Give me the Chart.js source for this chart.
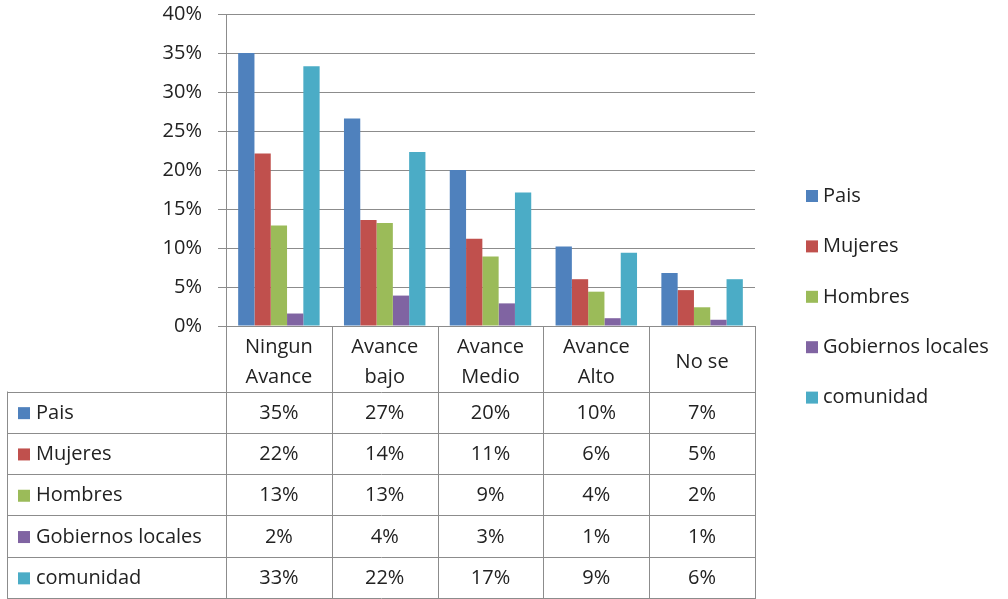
<!DOCTYPE html>
<html>
<head>
<meta charset="utf-8">
<script src="https://cdn.jsdelivr.net/npm/chart.js@4/dist/chart.umd.min.js"></script>
<style>
  html, body { margin: 0; padding: 0; background: #fff; }
  #avanceChart { display: block; }
</style>
</head>
<body>
<canvas id="avanceChart" width="1008" height="599"></canvas>
<script>
// Categorias (cabecera de la tabla, en dos lineas)
const categorias = [
  ["Ningun", "Avance"],
  ["Avance", "bajo"],
  ["Avance", "Medio"],
  ["Avance", "Alto"],
  ["No se"]
];

const series = ["Pais", "Mujeres", "Hombres", "Gobiernos locales", "comunidad"];

// Porcentajes por serie
const pais = [35.0, 26.6, 20.0, 10.2, 6.8];
const mujeres = [22.1, 13.6, 11.2, 6.0, 4.6];
const hombres = [12.9, 13.2, 8.9, 4.4, 2.4];
const gobiernos = [1.6, 3.9, 2.9, 1.0, 0.8];
const comunidad = [33.3, 22.3, 17.1, 9.4, 6.0];

const colores = ["#4F81BD", "#C0504D", "#9BBB59", "#8064A2", "#4BACC6"];

const yTicks = [0, 5, 10, 15, 20, 25, 30, 35, 40];

const FONT = "20px 'Open Sans'";
const TEXT = "#222222";
const LINE = "#8c8c8c";

const valores = [pais, mujeres, hombres, gobiernos, comunidad];

// Tabla de datos bajo el grafico + leyenda a la derecha
const tablaPlugin = {
  id: "tablaDatos",
  afterDraw(chart) {
    const ctx = chart.ctx;
    const area = chart.chartArea;
    const x = chart.scales.x;
    const catW = (area.right - area.left) / categorias.length;
    const tableLeft = 7;
    const headBottom = 391.5;
    const rowH = 41.3;
    const tableBottom = headBottom + rowH * series.length;

    ctx.save();
    ctx.strokeStyle = LINE;
    ctx.lineWidth = 1;

    // lineas verticales de columnas
    for (let i = 0; i <= categorias.length; i++) {
      const px = Math.round(area.left + catW * i) + 0.5;
      ctx.beginPath();
      ctx.moveTo(px, area.bottom);
      ctx.lineTo(px, tableBottom);
      ctx.stroke();
    }
    ctx.beginPath();
    ctx.moveTo(tableLeft + 0.5, headBottom);
    ctx.lineTo(tableLeft + 0.5, tableBottom);
    ctx.stroke();

    // lineas horizontales de filas
    for (let r = 0; r <= series.length; r++) {
      const py = Math.round(headBottom + rowH * r) + 0.5;
      ctx.beginPath();
      ctx.moveTo(tableLeft, py);
      ctx.lineTo(area.right + 1, py);
      ctx.stroke();
    }

    ctx.font = FONT;
    ctx.fillStyle = TEXT;
    ctx.textAlign = "center";
    ctx.textBaseline = "middle";

    // cabecera
    const headMid = (area.bottom + headBottom) / 2 + 4;
    categorias.forEach((lines, i) => {
      const cx = x.getPixelForValue(i);
      const lh = 30;
      const y0 = headMid - (lines.length - 1) * lh / 2;
      lines.forEach((t, k) => ctx.fillText(t, cx, y0 + k * lh));
    });

    // filas
    series.forEach((name, r) => {
      const cy = headBottom + rowH * r + rowH / 2 + 1;
      ctx.fillStyle = colores[r];
      ctx.fillRect(18, cy - 6, 12, 12);
      ctx.fillStyle = TEXT;
      ctx.textAlign = "left";
      ctx.fillText(name, 36, cy);
      ctx.textAlign = "center";
      valores[r].forEach((v, i) => {
        ctx.fillText(Math.round(v) + "%", x.getPixelForValue(i), cy);
      });
    });

    // leyenda
    ctx.textAlign = "left";
    series.forEach((name, r) => {
      const cy = 196 + 50.4 * r;
      ctx.fillStyle = colores[r];
      ctx.fillRect(806, cy - 6, 12, 12);
      ctx.fillStyle = TEXT;
      ctx.fillText(name, 823, cy);
    });

    ctx.restore();
  }
};

const ctx = document.getElementById("avanceChart").getContext("2d");

new Chart(ctx, {
  type: "bar",
  data: {
    labels: categorias.map(c => c.join(" ")),
    datasets: series.map((name, i) => ({
      label: name,
      data: valores[i],
      backgroundColor: colores[i],
      borderWidth: 0,
      categoryPercentage: 0.77,
      barPercentage: 1.0
    }))
  },
  options: {
    responsive: false,
    devicePixelRatio: 1,
    animation: false,
    layout: {
      padding: { left: 0, right: 253, top: 14, bottom: 0 }
    },
    plugins: {
      legend: { display: false },
      tooltip: { enabled: false }
    },
    scales: {
      x: {
        ticks: { display: false },
        grid: { display: false, drawTicks: false },
        border: { display: false },
        afterFit(scale) {
          scale.height = 599 - 326;
        }
      },
      y: {
        min: 0,
        max: 40,
        afterBuildTicks(scale) {
          scale.ticks = yTicks.map(v => ({ value: v }));
        },
        ticks: {
          callback: v => v + "%",
          color: TEXT,
          font: { family: "'Open Sans'", size: 20 },
          padding: 16
        },
        grid: {
          color: LINE,
          lineWidth: 1,
          drawTicks: true,
          tickLength: 8
        },
        border: { display: true, color: LINE, width: 1 },
        afterFit(scale) {
          scale.width = 226;
          scale.paddingTop = 0;
          scale.paddingBottom = 0;
        }
      }
    }
  },
  plugins: [tablaPlugin]
});
</script>
</body>
</html>
